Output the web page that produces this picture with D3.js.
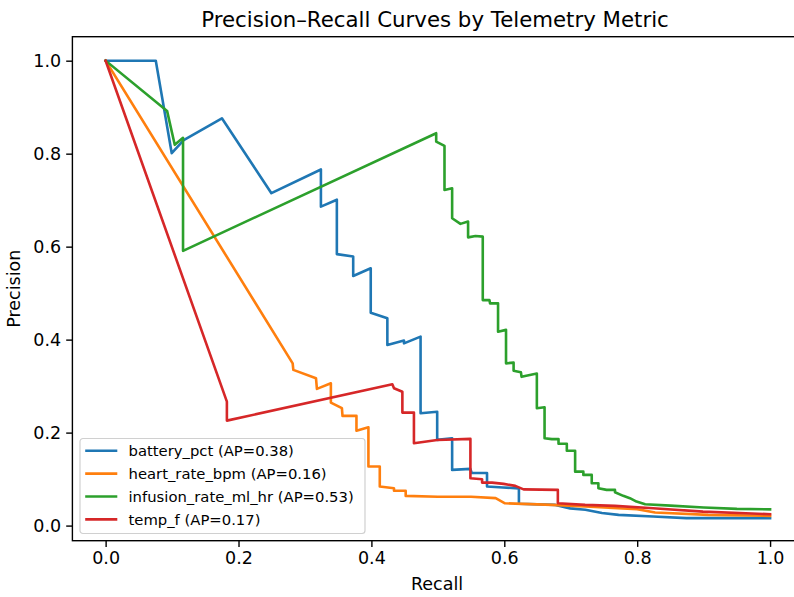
<!DOCTYPE html>
<html>
<head>
<meta charset="utf-8">
<script src="https://d3js.org/d3.v7.min.js"></script>
<style>
  body { margin: 0; background: #fff; }
  text { font-family: "DejaVu Sans", sans-serif; fill: #000; }
</style>
</head>
<body>
<div id="container"></div>
<script>
// series names, AP scores and colours
var seriesNames = ["battery_pct", "heart_rate_bpm", "infusion_rate_ml_hr", "temp_f"];
var apScores = [0.38, 0.16, 0.53, 0.17];
var colors = ["#1f77b4", "#ff7f0e", "#2ca02c", "#d62728"];

// battery_pct curve
var batteryRecall = [0, 0.0755, 0.0995, 0.1175, 0.175, 0.2495, 0.324, 0.324, 0.348, 0.348, 0.3726, 0.3726, 0.399, 0.399, 0.424, 0.424, 0.449, 0.449, 0.474, 0.474, 0.499, 0.499, 0.5215, 0.5215, 0.549, 0.551, 0.574, 0.574, 0.598, 0.622, 0.622, 0.677, 0.699, 0.722, 0.747, 0.772, 0.824, 0.874, 1.0];
var batteryPrecision = [1, 1, 0.801, 0.829, 0.876, 0.715, 0.766, 0.686, 0.701, 0.584, 0.579, 0.537, 0.5535, 0.458, 0.446, 0.3886, 0.398, 0.392, 0.4065, 0.2417, 0.245, 0.1843, 0.188, 0.1198, 0.122, 0.113, 0.113, 0.084, 0.082, 0.080, 0.047, 0.0445, 0.037, 0.034, 0.027, 0.023, 0.0194, 0.016, 0.016];

// heart_rate_bpm curve
var heartRecall = [0, 0.2815, 0.2825, 0.3166, 0.318, 0.339, 0.339, 0.3556, 0.3565, 0.3775, 0.3775, 0.3955, 0.3955, 0.4126, 0.4126, 0.434, 0.434, 0.4516, 0.4516, 0.50, 0.55, 0.587, 0.601, 0.672, 0.722, 0.80, 0.827, 0.907, 1.0];
var heartPrecision = [1, 0.349, 0.335, 0.317, 0.294, 0.306, 0.2645, 0.2525, 0.236, 0.236, 0.204, 0.2116, 0.127, 0.127, 0.084, 0.0804, 0.075, 0.075, 0.0639, 0.062, 0.062, 0.059, 0.048, 0.0445, 0.041, 0.0353, 0.028, 0.023, 0.021];

// infusion_rate_ml_hr curve
var infusionRecall = [0, 0.0925, 0.104, 0.1165, 0.1165, 0.4975, 0.4975, 0.51, 0.51, 0.5215, 0.5215, 0.534, 0.5455, 0.5455, 0.5566, 0.5676, 0.5676, 0.5776, 0.5786, 0.5906, 0.5906, 0.6026, 0.6026, 0.614, 0.614, 0.625, 0.626, 0.649, 0.649, 0.6606, 0.6606, 0.6716, 0.6816, 0.6816, 0.6941, 0.6941, 0.7066, 0.7066, 0.719, 0.719, 0.7316, 0.7316, 0.7416, 0.7416, 0.754, 0.7666, 0.7666, 0.779, 0.789, 0.799, 0.812, 0.85, 0.9, 0.95, 1.0];
var infusionPrecision = [1, 0.892, 0.819, 0.834, 0.591, 0.844, 0.826, 0.8166, 0.722, 0.7256, 0.661, 0.649, 0.654, 0.620, 0.623, 0.6215, 0.485, 0.485, 0.478, 0.478, 0.417, 0.421, 0.349, 0.3506, 0.333, 0.330, 0.320, 0.327, 0.2525, 0.2546, 0.188, 0.186, 0.186, 0.176, 0.176, 0.161, 0.161, 0.116, 0.116, 0.109, 0.109, 0.091, 0.091, 0.0804, 0.0768, 0.0768, 0.0716, 0.064, 0.059, 0.0516, 0.046, 0.043, 0.039, 0.036, 0.035];

// temp_f curve
var tempRecall = [0, 0.1825, 0.1825, 0.4315, 0.434, 0.4466, 0.4466, 0.464, 0.464, 0.499, 0.549, 0.549, 0.5666, 0.5666, 0.5816, 0.599, 0.6166, 0.629, 0.6806, 0.6806, 0.7216, 0.7666, 0.824, 0.899, 1.0];
var tempPrecision = [1, 0.2667, 0.2258, 0.304, 0.2955, 0.288, 0.243, 0.243, 0.177, 0.184, 0.1865, 0.102, 0.0998, 0.0925, 0.0925, 0.0897, 0.0854, 0.078, 0.0768, 0.048, 0.0445, 0.0424, 0.0374, 0.030, 0.0245];

var xTicks = [0, 0.2, 0.4, 0.6, 0.8, 1.0];
var yTicks = [0, 0.2, 0.4, 0.6, 0.8, 1.0];

var svg_width = 794, svg_height = 597;
var plot = {left: 72.4, right: 803.3, top: 36.7, bottom: 540.7};

var svg = d3.select("#container").append("svg")
    .attr("width", svg_width)
    .attr("height", svg_height);

var x = d3.scaleLinear().domain([-0.05, 1.05]).range([plot.left, plot.right]);
var y = d3.scaleLinear().domain([-0.0325, 1.0516]).range([plot.bottom, plot.top]);

var curves = [
    {recall: batteryRecall, precision: batteryPrecision},
    {recall: heartRecall, precision: heartPrecision},
    {recall: infusionRecall, precision: infusionPrecision},
    {recall: tempRecall, precision: tempPrecision}
].map(function (c, i) {
    return {
        name: seriesNames[i], ap: apScores[i], color: colors[i],
        points: c.recall.map(function (r, j) { return [r, c.precision[j]]; })
    };
});

var line = d3.line().x(d => x(d[0])).y(d => y(d[1]));

svg.append("g").selectAll("path")
    .data(curves)
    .enter().append("path")
    .attr("d", d => line(d.points))
    .attr("fill", "none")
    .attr("stroke", d => d.color)
    .attr("stroke-width", 2.6)
    .attr("stroke-linejoin", "round")
    .attr("stroke-linecap", "square");

// axes
var axisX = d3.axisBottom(x).tickValues(xTicks).tickFormat(d3.format(".1f")).tickSize(6.2).tickPadding(5);
var axisY = d3.axisLeft(y).tickValues(yTicks).tickFormat(d3.format(".1f")).tickSize(6.2).tickPadding(5);

var gx = svg.append("g").attr("transform", `translate(0,${plot.bottom})`).call(axisX);
var gy = svg.append("g").attr("transform", `translate(${plot.left},0)`).call(axisY);
[gx, gy].forEach(function (g) {
    g.select(".domain").remove();
    g.selectAll(".tick line").attr("stroke", "#000").attr("stroke-width", 1.4);
    g.selectAll(".tick text").attr("font-size", 17.5).attr("font-family", "DejaVu Sans").attr("fill", "#000");
});
gx.selectAll(".tick text").attr("dy", "0.72em");

// frame
svg.append("rect")
    .attr("x", plot.left).attr("y", plot.top)
    .attr("width", plot.right - plot.left).attr("height", plot.bottom - plot.top)
    .attr("fill", "none").attr("stroke", "#000").attr("stroke-width", 1.4);

// titles
svg.append("text")
    .attr("x", 435).attr("y", 26.5)
    .attr("text-anchor", "middle")
    .attr("font-size", 21.3)
    .text("Precision–Recall Curves by Telemetry Metric");

svg.append("text")
    .attr("x", 437).attr("y", 590)
    .attr("text-anchor", "middle")
    .attr("font-size", 17.5)
    .text("Recall");

svg.append("text")
    .attr("transform", `translate(19.5,${(plot.top + plot.bottom) / 2}) rotate(-90)`)
    .attr("text-anchor", "middle")
    .attr("font-size", 17.5)
    .text("Precision");

// legend
var legend = svg.append("g").attr("transform", "translate(80,438.5)");
legend.append("rect")
    .attr("width", 285).attr("height", 95)
    .attr("rx", 3).attr("ry", 3)
    .attr("fill", "#fff").attr("fill-opacity", 0.8)
    .attr("stroke", "#d0d0d0").attr("stroke-width", 1.2);

var item = legend.selectAll(".item")
    .data(curves)
    .enter().append("g")
    .attr("class", "item")
    .attr("transform", (d, i) => `translate(0,${12.2 + i * 22.9})`);

item.append("line")
    .attr("x1", 6.5).attr("x2", 36)
    .attr("stroke", d => d.color)
    .attr("stroke-width", 2.6)
    .attr("stroke-linecap", "square");

item.append("text")
    .attr("x", 48.5).attr("dy", "0.35em")
    .attr("font-size", 14.8)
    .text(d => `${d.name} (AP=${d3.format(".2f")(d.ap)})`);
</script>
</body>
</html>
